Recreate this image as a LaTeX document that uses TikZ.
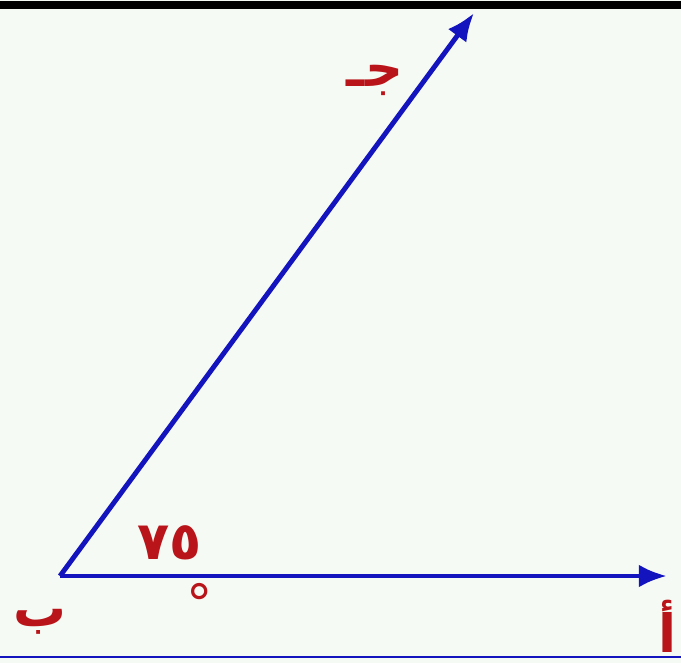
\documentclass[tikz,border=0pt]{standalone}
\usepackage{fontspec}
\newfontfamily\arabicfont[Script=Arabic]{DejaVu Sans}
\TeXXeTstate=1
\usetikzlibrary{arrows.meta}
\definecolor{raycol}{RGB}{20,20,190}
\definecolor{labcol}{RGB}{185,20,25}
\definecolor{paper}{RGB}{246,250,244}
\tikzset{
  ray/.style={raycol, line width=2.8pt, -{Latex[length=16pt,width=13pt]}},
  lab/.style={labcol, font=\arabicfont\bfseries\fontsize{30}{34}\selectfont, inner sep=0pt},
}
\begin{document}
\begin{tikzpicture}[x=0.02cm,y=-0.02cm]
  \fill[paper] (0,0) rectangle (681,663);
  \useasboundingbox (0,0) rectangle (681,663);
  % frame lines
  \draw[line width=4.5pt] (0,5) -- (681,5);
  \draw[raycol, line width=1.6pt] (0,657) -- (681,657);
  % the angle
  \coordinate (B) at (60,576);
  \coordinate (A) at (667,576);
  \coordinate (C) at (474,13);
  \draw[ray] (B) -- (A);
  \draw[ray] (B) -- (C);
  % labels
  \node[lab] (labC) at (375,80) {\beginR جـ\endR};
  \node[lab] (labB) at (40,622) {\beginR ب\endR};
  \node[lab] (labA) at (668,626) {\beginR أ\endR};
  \node[lab] (ang) at (170,543) {\beginR ٧٥\endR};
  \node[labcol, font=\arabicfont\fontsize{30}{34}\selectfont, inner sep=0pt] (deg) at (200,603) {°};
\end{tikzpicture}
\end{document}
